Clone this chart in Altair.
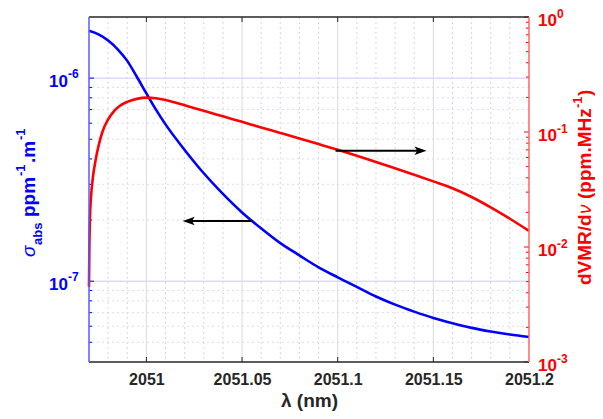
import altair as alt
import pandas as pd

# ---------------- data ----------------
x_blue = [2050.97, 2050.975, 2050.98, 2050.985, 2050.99, 2050.995, 2051.0, 2051.005,
          2051.01, 2051.02, 2051.03, 2051.04, 2051.05, 2051.06, 2051.07, 2051.08,
          2051.09, 2051.1, 2051.11, 2051.12, 2051.13, 2051.14, 2051.15, 2051.16,
          2051.17, 2051.18, 2051.19, 2051.2]
sigma_abs = [1.710e-6, 1.641e-6, 1.531e-6, 1.387e-6, 1.216e-6, 1.016e-6, 8.41e-7, 7.00e-7,
             5.92e-7, 4.43e-7, 3.40e-7, 2.69e-7, 2.18e-7, 1.82e-7, 1.54e-7, 1.34e-7,
             1.17e-7, 1.045e-7, 9.38e-8, 8.41e-8, 7.67e-8, 7.08e-8, 6.59e-8, 6.21e-8,
             5.89e-8, 5.65e-8, 5.46e-8, 5.31e-8]

x_red = [2050.97, 2050.9702, 2050.9705, 2050.971, 2050.972, 2050.9735, 2050.975, 2050.977,
         2050.98, 2050.983, 2050.986, 2050.99, 2050.995, 2051.0, 2051.005, 2051.01,
         2051.015, 2051.02, 2051.03, 2051.04, 2051.05, 2051.06, 2051.07, 2051.08,
         2051.09, 2051.1, 2051.11, 2051.12, 2051.13, 2051.14, 2051.15, 2051.16,
         2051.17, 2051.18, 2051.19, 2051.2]
dvmr = [0.0045, 0.0100, 0.0178, 0.0263, 0.0398, 0.0575, 0.0759, 0.1000,
        0.1288, 0.1514, 0.1683, 0.1828, 0.1941, 0.1990, 0.1963, 0.1897,
        0.1803, 0.1706, 0.1528, 0.1368, 0.1225, 0.1096, 0.0982, 0.0879,
        0.0785, 0.0700, 0.0621, 0.0548, 0.0483, 0.0425, 0.0372, 0.0324,
        0.0272, 0.0221, 0.0176, 0.0138]

x_ticks = [2051, 2051.05, 2051.1, 2051.15, 2051.2]
x_major_grid = [2051, 2051.05, 2051.1, 2051.15]
x_minor_grid = [2050.98, 2050.99, 2051.01, 2051.02, 2051.03, 2051.04, 2051.06, 2051.07,
                2051.08, 2051.09, 2051.11, 2051.12, 2051.13, 2051.14, 2051.16, 2051.17,
                2051.18, 2051.19]

left_major = [1e-6, 1e-7]
left_exp = ["-6", "-7"]
left_minor = [5e-8, 6e-8, 7e-8, 8e-8, 9e-8, 2e-7, 3e-7, 4e-7, 5e-7, 6e-7, 7e-7, 8e-7, 9e-7]

right_major = [1.0, 0.1, 0.01, 0.001]
right_exp = ["0", "-1", "-2", "-3"]
right_minor = [0.002, 0.003, 0.004, 0.005, 0.006, 0.007, 0.008, 0.009,
               0.02, 0.03, 0.04, 0.05, 0.06, 0.07, 0.08, 0.09,
               0.2, 0.3, 0.4, 0.5, 0.6, 0.7, 0.8, 0.9]

arrow_left = {"x1": 2051.055, "x2": 2051.0221, "y": 1.98e-7}
arrow_right = {"x1": 2051.0989, "x2": 2051.1433, "y": 0.0688}

# ---------------- style ----------------
W, H = 440, 345
FONT = "Liberation Sans"
BLUE = "#0000ff"
RED = "#ff0000"
DARK = "#262626"

xs = alt.Scale(domain=[2050.97, 2051.2], nice=False, zero=False)
yl = alt.Scale(type="log", domain=[4e-8, 2e-6], nice=False)
yr = alt.Scale(type="log", domain=[1e-3, 1], nice=False)

x_axis = alt.Axis(values=x_ticks, labelExpr="format(datum.value, '~g')", title="λ (nm)",
                  titleFont=FONT, titleFontSize=19, titleFontWeight="bold", titleColor=DARK,
                  labelFont=FONT, labelFontSize=16, labelFontWeight="bold", labelColor=DARK,
                  ticks=False, domain=False, grid=False, labelPadding=9, titlePadding=4,
                  labelFlush=False, labelOverlap=False)


def X(field="x"):
    return alt.X(f"{field}:Q", scale=xs, axis=x_axis)


def df1(**kw):
    return pd.DataFrame({k: (v if isinstance(v, list) else [v]) for k, v in kw.items()})


# ---------------- shared (x) grid and frame ----------------
vgrid_major = alt.Chart(df1(x=x_major_grid)).mark_rule(color="#dadada", strokeWidth=1).encode(x=X())
vgrid_minor = alt.Chart(df1(x=x_minor_grid)).mark_rule(color="#d6d6d6", strokeWidth=1, strokeDash=[2, 3]).encode(x=X())
xt_bottom = alt.Chart(df1(x=x_major_grid)).mark_rule(color=DARK, strokeWidth=1).encode(
    x=X(), y=alt.value(H), y2=alt.value(H - 5))
xt_top = alt.Chart(df1(x=x_major_grid)).mark_rule(color=DARK, strokeWidth=1).encode(
    x=X(), y=alt.value(0), y2=alt.value(5))

# ---------------- left scale group ----------------
hgrid_minor = alt.Chart(df1(v=left_minor)).mark_rule(color="#dcdcf2", strokeWidth=1, strokeDash=[2, 3]).encode(
    y=alt.Y("v:Q", scale=yl, axis=None))
hgrid_major = alt.Chart(df1(v=left_major)).mark_rule(color="#c8c8ff", strokeWidth=1).encode(
    y=alt.Y("v:Q", scale=yl, axis=None))
blue_line = alt.Chart(pd.DataFrame({"x": x_blue, "v": sigma_abs})).mark_line(
    color=BLUE, strokeWidth=2.6, interpolate="monotone").encode(x=X(), y=alt.Y("v:Q", scale=yl, axis=None))
lt_major = alt.Chart(df1(v=left_major)).mark_rule(color=BLUE, strokeWidth=1).encode(
    y=alt.Y("v:Q", scale=yl, axis=None), x=alt.value(0), x2=alt.value(5))
lt_minor = alt.Chart(df1(v=left_minor)).mark_rule(color=BLUE, strokeWidth=1).encode(
    y=alt.Y("v:Q", scale=yl, axis=None), x=alt.value(0), x2=alt.value(3))
left_lab_df = pd.DataFrame({"v": left_major, "e": left_exp})
ll_base = alt.Chart(left_lab_df).mark_text(font=FONT, fontSize=17, fontWeight="bold", color=BLUE,
                                           align="right", baseline="middle", dy=4).encode(
    y=alt.Y("v:Q", scale=yl, axis=None), x=alt.value(-21), text=alt.value("10"))
ll_exp = alt.Chart(left_lab_df).mark_text(font=FONT, fontSize=12, fontWeight="bold", color=BLUE,
                                          align="left", baseline="middle", dy=-4).encode(
    y=alt.Y("v:Q", scale=yl, axis=None), x=alt.value(-21), text="e:N")
al = pd.DataFrame([arrow_left])
al_rule = alt.Chart(al).mark_rule(color="black", strokeWidth=2).encode(
    x=X("x1"), x2="x2:Q", y=alt.Y("y:Q", scale=yl, axis=None))
al_head = alt.Chart(al).mark_point(shape="M-1,0L1,-0.7L0.55,0L1,0.7Z", size=144, filled=True,
                                   color="black", opacity=1, strokeWidth=0).encode(
    x=X("x2"), y=alt.Y("y:Q", scale=yl, axis=None))

left_group = alt.layer(hgrid_minor, hgrid_major, vgrid_minor, vgrid_major, blue_line,
                       lt_major, lt_minor, ll_base, ll_exp, al_rule, al_head)

# ---------------- right scale group ----------------
red_line = alt.Chart(pd.DataFrame({"x": x_red, "v": dvmr})).mark_line(
    color=RED, strokeWidth=2.6, interpolate="monotone").encode(x=X(), y=alt.Y("v:Q", scale=yr, axis=None))
rt_major = alt.Chart(df1(v=right_major)).mark_rule(color=RED, strokeWidth=1).encode(
    y=alt.Y("v:Q", scale=yr, axis=None), x=alt.value(W), x2=alt.value(W - 5))
rt_minor = alt.Chart(df1(v=right_minor)).mark_rule(color=RED, strokeWidth=1).encode(
    y=alt.Y("v:Q", scale=yr, axis=None), x=alt.value(W), x2=alt.value(W - 3))
right_lab_df = pd.DataFrame({"v": right_major, "e": right_exp})
rl_base = alt.Chart(right_lab_df).mark_text(font=FONT, fontSize=17, fontWeight="bold", color=RED,
                                            align="left", baseline="middle", dy=4).encode(
    y=alt.Y("v:Q", scale=yr, axis=None), x=alt.value(W + 9), text=alt.value("10"))
rl_exp = alt.Chart(right_lab_df).mark_text(font=FONT, fontSize=12, fontWeight="bold", color=RED,
                                           align="left", baseline="middle", dy=-3).encode(
    y=alt.Y("v:Q", scale=yr, axis=None), x=alt.value(W + 28), text="e:N")
ar = pd.DataFrame([arrow_right])
ar_rule = alt.Chart(ar).mark_rule(color="black", strokeWidth=2).encode(
    x=X("x1"), x2="x2:Q", y=alt.Y("y:Q", scale=yr, axis=None))
ar_head = alt.Chart(ar).mark_point(shape="M1,0L-1,-0.7L-0.55,0L-1,0.7Z", size=144, filled=True,
                                   color="black", opacity=1, strokeWidth=0).encode(
    x=X("x2"), y=alt.Y("y:Q", scale=yr, axis=None))

right_group = alt.layer(red_line, rt_major, rt_minor, rl_base, rl_exp, ar_rule, ar_head)


# ---------------- frame and titles ----------------
def frame(color, **enc):
    return alt.Chart(df1(k=0)).mark_rule(color=color, strokeWidth=1.5).encode(**enc)


f_left = frame("#5a5aff", x=alt.value(0), y=alt.value(0), y2=alt.value(H))
f_right = frame("#ff6464", x=alt.value(W), y=alt.value(0), y2=alt.value(H))
f_top = frame(DARK, y=alt.value(0), x=alt.value(0), x2=alt.value(W))
f_bottom = frame(DARK, y=alt.value(H), x=alt.value(0), x2=alt.value(W))


def txt(t, x, y, size, color, weight="bold", style="normal"):
    return alt.Chart(df1(t=t)).mark_text(font=FONT, fontSize=size, fontWeight=weight, fontStyle=style,
                                         color=color, angle=270, align="left",
                                         baseline="alphabetic").encode(
        text="t:N", x=alt.value(x), y=alt.value(y))


left_title = [
    txt("σ", -54, 240, 19, BLUE, weight="normal", style="italic"),
    txt("abs", -47, 228, 13, BLUE),
    txt("ppm", -54, 200, 19, BLUE),
    txt("-1", -64, 159, 13, BLUE),
    txt(".m", -54, 146, 19, BLUE),
    txt("-1", -64, 123, 13, BLUE),
]
right_title = [
    txt("dVMR/d", 502, 268, 19, RED),
    txt("ν", 502, 197, 19, RED, weight="normal", style="italic"),
    txt("(ppm.MHz", 502, 182, 19, RED),
    txt("-1", 493, 91, 13, RED),
    txt(")", 502, 79, 19, RED),
]

chart = alt.layer(
    left_group, right_group, xt_bottom, xt_top, f_top, f_bottom, f_left, f_right,
    *left_title, *right_title
).resolve_scale(y="independent").properties(
    width=W, height=H,
    autosize=alt.AutoSizeParams(type="none"),
    padding={"left": 81, "top": 9, "right": 66, "bottom": 49},
).configure_view(stroke=None)

chart.save("out.html", embed_options={"renderer": "svg", "actions": False})
